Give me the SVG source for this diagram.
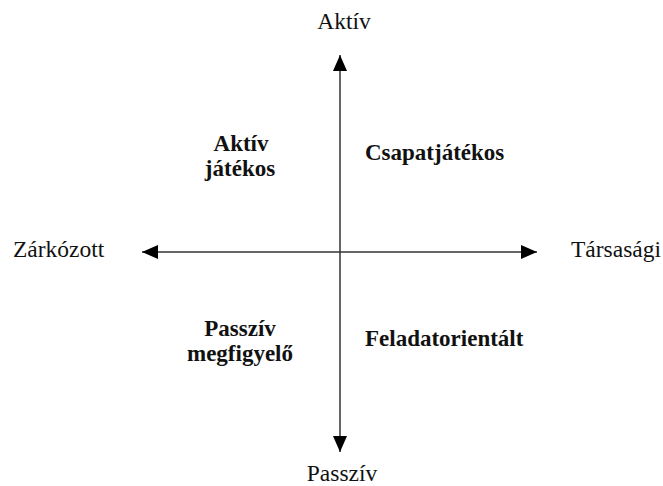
<svg xmlns="http://www.w3.org/2000/svg" width="663" height="486" viewBox="0 0 663 486">
<style>
.lab{font-family:"Liberation Serif","Times New Roman",serif;font-size:23.5px;fill:#111}
.q{font-family:"Liberation Serif","Times New Roman",serif;font-size:23px;font-weight:bold;fill:#111}
.ax{stroke:#333;stroke-width:1.5;fill:none}
</style>
<defs>
<marker id="ah" viewBox="0 0 16 14" refX="16" refY="7" markerWidth="16" markerHeight="14" markerUnits="userSpaceOnUse" orient="auto">
<path d="M0,0 L16,7 L0,14 Z" fill="#000"/>
</marker>
</defs>
<rect width="663" height="486" fill="#fff"/>
<g id="connectors">
<line class="ax" x1="340" y1="252" x2="340" y2="55" marker-end="url(#ah)"/>
<line class="ax" x1="340" y1="252" x2="340" y2="452" marker-end="url(#ah)"/>
<line class="ax" x1="340" y1="252" x2="142" y2="252" marker-end="url(#ah)"/>
<line class="ax" x1="340" y1="252" x2="537" y2="252" marker-end="url(#ah)"/>
</g>
<g id="aktiv"><text class="lab" x="344" y="29" text-anchor="middle">Aktív</text></g>
<g id="passziv"><text class="lab" x="342" y="481" text-anchor="middle">Passzív</text></g>
<g id="zarkozott"><text class="lab" x="13" y="257">Zárkózott</text></g>
<g id="tarsasagi"><text class="lab" x="571" y="257">Társasági</text></g>
<g id="aktiv-jatekos"><text class="q" text-anchor="middle" x="241"><tspan x="241" y="151">Aktív</tspan><tspan x="240" y="176">játékos</tspan></text></g>
<g id="csapatjatekos"><text class="q" x="365" y="160">Csapatjátékos</text></g>
<g id="passziv-megfigyelo"><text class="q" text-anchor="middle" x="240"><tspan x="240" y="336">Passzív</tspan><tspan x="240" y="361">megfigyelő</tspan></text></g>
<g id="feladatorientalt"><text class="q" x="365" y="346">Feladatorientált</text></g>
</svg>
